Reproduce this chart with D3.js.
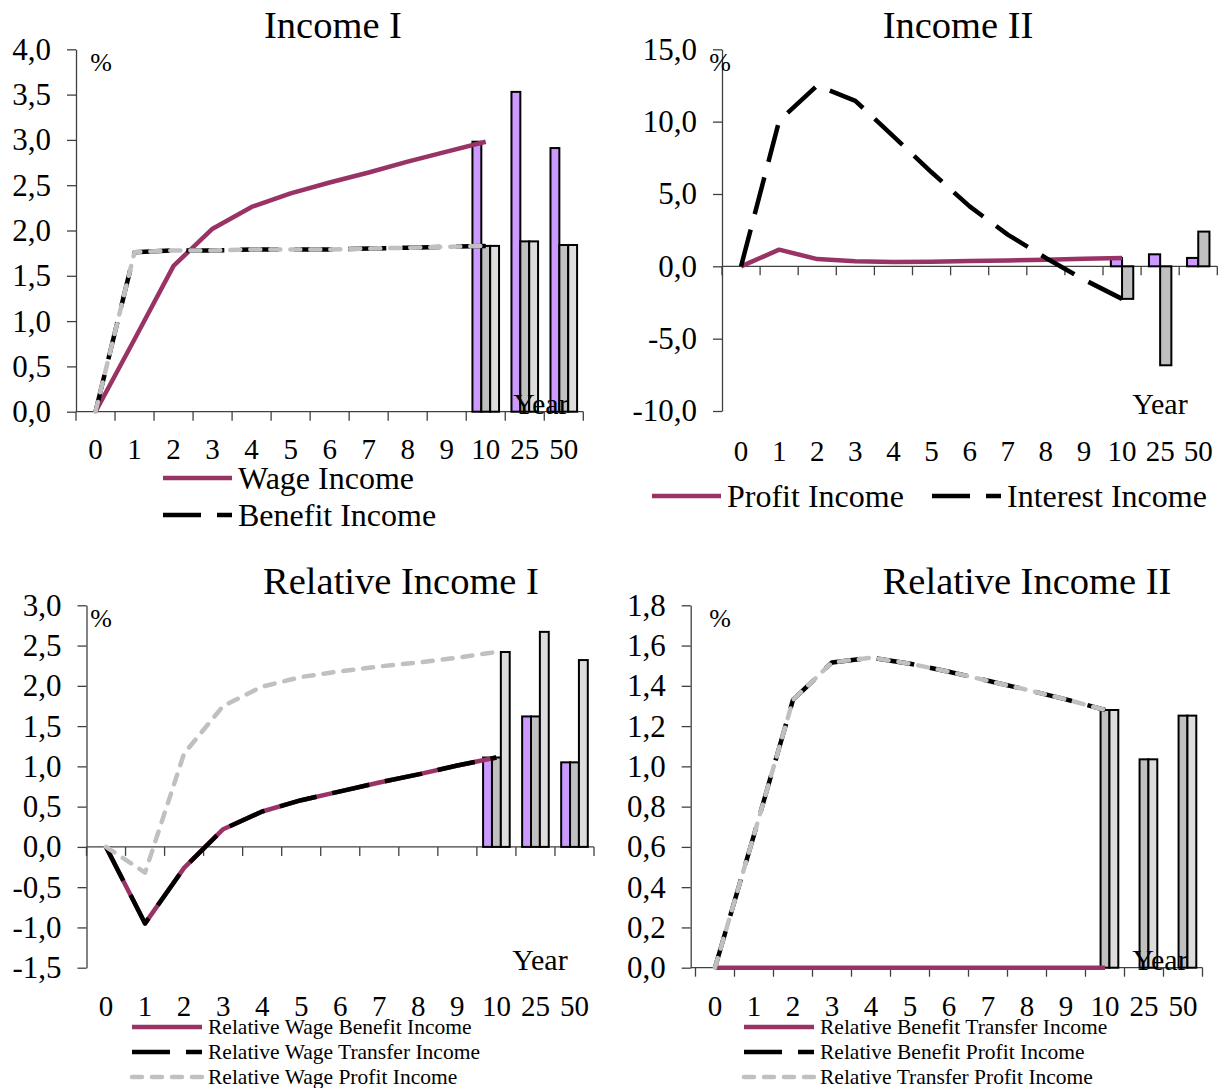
<!DOCTYPE html>
<html>
<head>
<meta charset="utf-8">
<script src="https://cdn.jsdelivr.net/npm/d3@7"></script>
<style>
  html, body { margin: 0; padding: 0; background: #fff; }
  svg { display: block; }
</style>
</head>
<body>
<script>
// Categories on the horizontal axis: yearly path 0..10, then long-run years
const categories = ["0", "1", "2", "3", "4", "5", "6", "7", "8", "9", "10", "25", "50"];
const lineYears = ["0", "1", "2", "3", "4", "5", "6", "7", "8", "9", "10"];
const barYears = ["10", "25", "50"];

// Income I (%)
const wageIncome     = [0, 0.80, 1.61, 2.02, 2.26, 2.41, 2.53, 2.64, 2.76, 2.87, 2.98];
const benefitIncome  = [0, 1.76, 1.78, 1.78, 1.79, 1.79, 1.79, 1.80, 1.81, 1.82, 1.83];
const transferIncome = [0, 1.76, 1.78, 1.78, 1.79, 1.79, 1.79, 1.80, 1.81, 1.82, 1.83];
const wageIncomeBars     = [2.98, 3.53, 2.91];
const benefitIncomeBars  = [1.83, 1.88, 1.84];
const transferIncomeBars = [1.83, 1.88, 1.84];

// Income II (%)
const profitIncome   = [0, 1.15, 0.50, 0.35, 0.30, 0.32, 0.36, 0.41, 0.46, 0.52, 0.58];
const interestIncome = [0, 10.06, 12.5, 11.44, 8.98, 6.50, 4.14, 2.19, 0.58, -0.92, -2.25];
const profitIncomeBars   = [0.58, 0.83, 0.58];
const interestIncomeBars = [-2.25, -6.84, 2.40];

// Relative Income I (%)
const relWageBenefit  = [0, -0.95, -0.26, 0.22, 0.44, 0.58, 0.69, 0.80, 0.90, 1.01, 1.11];
const relWageTransfer = [0, -0.95, -0.26, 0.22, 0.44, 0.58, 0.69, 0.80, 0.90, 1.01, 1.11];
const relWageProfit   = [0, -0.32, 1.16, 1.75, 1.99, 2.11, 2.18, 2.24, 2.29, 2.35, 2.42];
const relWageBenefitBars  = [1.11, 1.62, 1.05];
const relWageTransferBars = [1.11, 1.62, 1.05];
const relWageProfitBars   = [2.42, 2.67, 2.32];

// Relative Income II (%)
const relBenefitTransfer = [0, 0, 0, 0, 0, 0, 0, 0, 0, 0, 0];
const relBenefitProfit   = [0, 0.66, 1.33, 1.516, 1.54, 1.51, 1.47, 1.425, 1.38, 1.333, 1.28];
const relTransferProfit  = [0, 0.66, 1.33, 1.516, 1.54, 1.51, 1.47, 1.425, 1.38, 1.333, 1.28];
const relBenefitTransferBars = [0, 0, 0];
const relBenefitProfitBars   = [1.28, 1.035, 1.252];
const relTransferProfitBars  = [1.28, 1.035, 1.252];

// Value-axis ticks
const ticksIncomeI = [0, 0.5, 1, 1.5, 2, 2.5, 3, 3.5, 4];
const ticksIncomeII = [-10, -5, 0, 5, 10, 15];
const ticksRelI = [-1.5, -1, -0.5, 0, 0.5, 1, 1.5, 2, 2.5, 3];
const ticksRelII = [0, 0.2, 0.4, 0.6, 0.8, 1, 1.2, 1.4, 1.6, 1.8];

// Styles
const SERIF = "'Liberation Serif', 'Times New Roman', Times, serif";
const AXIS = "#404040";
const PURPLE_FILL = "#CC99FF", GRAY_FILL = "#C0C0C0", LIGHT_FILL = "#DDDDDD";
const solidPurple = { stroke: "#993366", width: 4.5, dash: null, cap: "butt" };
const longDashBlack = { stroke: "#000000", width: 4.5, dash: "38,16", cap: "butt" };
const dashGray = { stroke: "#C0C0C0", width: 4.5, dash: "10,10", cap: "round" };

const fmt = v => d3.format(".1f")(v).replace(".", ",").replace("−", "-");

const svg = d3.select("body").append("svg")
  .attr("width", 1224).attr("height", 1088)
  .attr("font-family", SERIF);

svg.append("rect").attr("width", 1224).attr("height", 1088).attr("fill", "#fff");

const panels = [
  {
    title: "Income I", titleX: 333, titleY: 38,
    xRange: [76, 583.3], yAxisX: 76, yDomain: [0, 4], yRange: [411.7, 49.3], yTicks: ticksIncomeI,
    labelY: 459, pctX: 101, pctY: 71, yearX: 541, yearY: 414,
    bars: [
      { values: wageIncomeBars, fill: PURPLE_FILL },
      { values: benefitIncomeBars, fill: GRAY_FILL },
      { values: transferIncomeBars, fill: LIGHT_FILL }
    ],
    lines: [
      { values: wageIncome, style: solidPurple },
      { values: benefitIncome, style: longDashBlack },
      { values: transferIncome, style: dashGray }
    ],
    legend: [
      { label: "Wage Income", style: solidPurple, x: 163, y: 478 },
      { label: "Benefit Income", style: longDashBlack, x: 163, y: 515 }
    ],
    legendSize: 32, legendLen: 69
  },
  {
    title: "Income II", titleX: 958, titleY: 38,
    xRange: [722, 1217.3], yAxisX: 722, yDomain: [-10, 15], yRange: [411, 49.3], yTicks: ticksIncomeII,
    labelY: 461, pctX: 720, pctY: 71, yearX: 1160, yearY: 414,
    bars: [
      { values: profitIncomeBars, fill: PURPLE_FILL },
      { values: interestIncomeBars, fill: GRAY_FILL }
    ],
    lines: [
      { values: profitIncome, style: solidPurple },
      { values: interestIncome, style: longDashBlack }
    ],
    legend: [
      { label: "Profit Income", style: solidPurple, x: 652, y: 496 },
      { label: "Interest Income", style: longDashBlack, x: 932, y: 496 }
    ],
    legendSize: 32, legendLen: 69
  },
  {
    title: "Relative Income I", titleX: 401, titleY: 594,
    xRange: [86.5, 594], yAxisX: 86.5, yDomain: [-1.5, 3], yRange: [967.7, 605.3], yTicks: ticksRelI,
    labelY: 1016, pctX: 101, pctY: 627, yearX: 540, yearY: 970,
    bars: [
      { values: relWageBenefitBars, fill: PURPLE_FILL },
      { values: relWageTransferBars, fill: GRAY_FILL },
      { values: relWageProfitBars, fill: LIGHT_FILL }
    ],
    lines: [
      { values: relWageBenefit, style: solidPurple },
      { values: relWageTransfer, style: longDashBlack },
      { values: relWageProfit, style: dashGray }
    ],
    legend: [
      { label: "Relative Wage Benefit Income", style: solidPurple, x: 132, y: 1027 },
      { label: "Relative Wage Transfer Income", style: longDashBlack, x: 132, y: 1052 },
      { label: "Relative Wage Profit Income", style: dashGray, x: 132, y: 1077 }
    ],
    legendSize: 21.5, legendLen: 70
  },
  {
    title: "Relative Income II", titleX: 1027, titleY: 594,
    xRange: [695.5, 1202.5], yAxisX: 690.7, yDomain: [0, 1.8], yRange: [967.7, 605.3], yTicks: ticksRelII,
    labelY: 1016, pctX: 720, pctY: 627, yearX: 1160, yearY: 970,
    bars: [
      { values: relBenefitTransferBars, fill: PURPLE_FILL },
      { values: relBenefitProfitBars, fill: GRAY_FILL },
      { values: relTransferProfitBars, fill: LIGHT_FILL }
    ],
    lines: [
      { values: relBenefitTransfer, style: solidPurple },
      { values: relBenefitProfit, style: longDashBlack },
      { values: relTransferProfit, style: dashGray }
    ],
    legend: [
      { label: "Relative Benefit Transfer Income", style: solidPurple, x: 744, y: 1027 },
      { label: "Relative Benefit Profit Income", style: longDashBlack, x: 744, y: 1052 },
      { label: "Relative Transfer Profit Income", style: dashGray, x: 744, y: 1077 }
    ],
    legendSize: 21.5, legendLen: 70
  }
];

function styleLine(sel, st) {
  sel.attr("fill", "none")
    .attr("stroke", st.stroke)
    .attr("stroke-width", st.width)
    .attr("stroke-linecap", st.cap)
    .attr("stroke-linejoin", "round");
  if (st.dash) sel.attr("stroke-dasharray", st.dash);
}

function drawPanel(p) {
  const x = d3.scaleBand().domain(categories).range(p.xRange);
  const y = d3.scaleLinear().domain(p.yDomain).range(p.yRange);
  const g = svg.append("g");

  // value axis
  const yAxis = d3.axisLeft(y)
    .tickValues(p.yTicks)
    .tickSize(9).tickSizeOuter(0).tickPadding(16)
    .tickFormat(fmt);
  g.append("g")
    .attr("transform", `translate(${p.yAxisX},0)`)
    .call(yAxis)
    .call(s => {
      s.select(".domain").attr("stroke", AXIS).attr("stroke-width", 1.3);
      s.selectAll(".tick line").attr("stroke", AXIS).attr("stroke-width", 1.3);
      s.selectAll(".tick text")
        .attr("font-family", SERIF).attr("font-size", 31).attr("fill", "#000");
    });

  // category axis at zero, with tick marks on category boundaries
  const y0 = y(0);
  const cat = g.append("g");
  cat.append("line")
    .attr("x1", p.yAxisX).attr("x2", p.xRange[1])
    .attr("y1", y0).attr("y2", y0)
    .attr("stroke", AXIS).attr("stroke-width", 1.3);
  const bounds = categories.map(c => x(c)).concat([x(categories[categories.length - 1]) + x.bandwidth()]);
  cat.selectAll("line.tk").data(bounds).join("line")
    .attr("class", "tk")
    .attr("x1", d => d).attr("x2", d => d)
    .attr("y1", y0).attr("y2", y0 + 9)
    .attr("stroke", AXIS).attr("stroke-width", 1.3);
  cat.selectAll("text").data(categories).join("text")
    .attr("x", d => x(d) + x.bandwidth() / 2)
    .attr("y", p.labelY)
    .attr("text-anchor", "middle")
    .attr("font-size", 29)
    .text(d => d);

  // bars for the long-run years
  const sub = d3.scaleBand().domain(d3.range(p.bars.length))
    .range([0, x.bandwidth()]).paddingInner(0).paddingOuter(0.7);
  p.bars.forEach((s, i) => {
    g.append("g").selectAll("rect")
      .data(barYears.map((yr, k) => ({ yr, v: s.values[k] })).filter(d => d.v !== 0))
      .join("rect")
      .attr("x", d => x(d.yr) + sub(i))
      .attr("width", sub.bandwidth())
      .attr("y", d => Math.min(y(d.v), y0))
      .attr("height", d => Math.abs(y(d.v) - y0))
      .attr("fill", s.fill)
      .attr("stroke", "#000")
      .attr("stroke-width", 2);
  });

  // yearly paths
  const line = d3.line()
    .x(d => x(d.yr) + x.bandwidth() / 2)
    .y(d => y(d.v));
  p.lines.forEach(s => {
    g.append("path")
      .datum(lineYears.map((yr, k) => ({ yr, v: s.values[k] })))
      .attr("d", line)
      .call(styleLine, s.style);
  });

  // title and axis captions
  g.append("text").attr("x", p.titleX).attr("y", p.titleY)
    .attr("text-anchor", "middle").attr("font-size", 38.5).text(p.title);
  g.append("text").attr("x", p.pctX).attr("y", p.pctY)
    .attr("text-anchor", "middle").attr("font-size", 26).text("%");
  g.append("text").attr("x", p.yearX).attr("y", p.yearY)
    .attr("text-anchor", "middle").attr("font-size", 30).text("Year");

  // legend
  p.legend.forEach(item => {
    const lg = g.append("g");
    lg.append("line")
      .attr("x1", item.x).attr("x2", item.x + p.legendLen)
      .attr("y1", item.y).attr("y2", item.y)
      .call(styleLine, item.style);
    lg.append("text")
      .attr("x", item.x + p.legendLen + 6)
      .attr("y", item.y)
      .attr("dy", "0.33em")
      .attr("font-size", p.legendSize)
      .text(item.label);
  });
}

panels.forEach(drawPanel);
</script>
</body>
</html>
